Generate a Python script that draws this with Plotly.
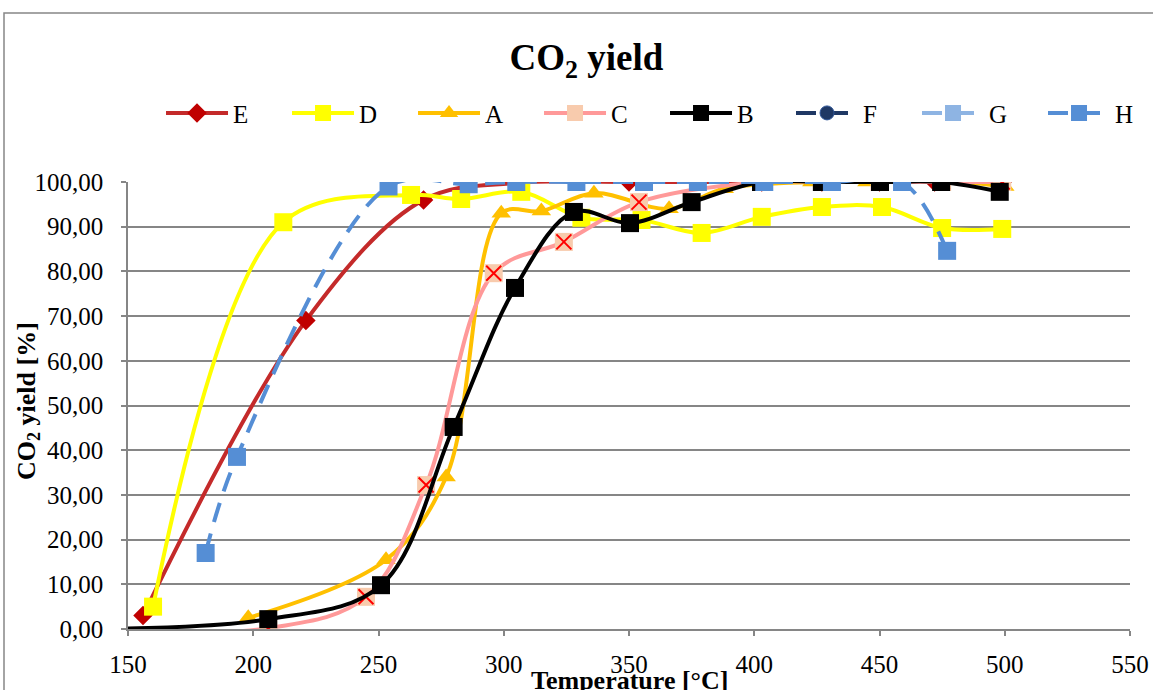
import plotly.graph_objects as go

# ---------------- data ----------------
E_x = [156, 221, 268, 305, 350, 403, 427, 450, 472, 499]
E_y = [3.0, 69.0, 96.0, 99.8, 100.0, 100.0, 100.0, 100.0, 100.0, 100.0]

D_x = [160, 212, 263, 283, 307, 331, 355, 379, 403, 427, 451, 475, 499]
D_y = [5.0, 91.0, 97.1, 96.2, 97.8, 92.0, 91.5, 88.6, 92.2, 94.4, 94.4, 89.7, 89.5]

A_x = [198, 253, 277, 299, 315, 336, 366, 388, 423, 445, 470, 500]
A_y = [2.5, 15.5, 34.0, 93.0, 93.5, 97.5, 94.0, 98.5, 100.0, 100.0, 100.5, 99.0]

C_x = [100, 206, 245, 269, 296, 324, 354, 403, 427, 450, 475, 499]
C_y = [0.0, 0.2, 7.2, 32.2, 79.6, 86.6, 95.5, 100.0, 100.0, 100.0, 100.0, 100.0]

B_x = [100, 206, 251, 280, 304.5, 328, 350.4, 375, 402.7, 427, 450.2, 474.6, 498]
B_y = [0.0, 2.2, 9.8, 45.2, 76.3, 93.3, 90.8, 95.5, 100.0, 100.0, 100.0, 100.0, 97.8]

F_x = [None]
F_y = [None]

G_x = [None]
G_y = [None]

H_x = [181, 193.5, 254, 286, 305, 329, 356, 377.5, 404, 431, 459, 477]
H_y = [17.0, 38.5, 99.0, 99.5, 100.0, 100.0, 100.0, 100.0, 100.0, 100.0, 100.0, 84.6]

x_ticks = [150, 200, 250, 300, 350, 400, 450, 500, 550]
y_ticks = [0, 10, 20, 30, 40, 50, 60, 70, 80, 90, 100]

FONT = "Liberation Serif, Times New Roman, serif"
GRID = "#868686"
LW = 4
DASH = "20px,12px"

fig = go.Figure()


def add(name, x, y, color, symbol, size, mcolor=None, dash="solid", mline=None, lw=None):
    fig.add_trace(go.Scatter(
        x=x, y=y, name=name, mode="lines+markers",
        line=dict(color=color, width=LW, shape="spline", smoothing=1.0, dash=dash),
        marker=dict(symbol=symbol, size=size, color=mcolor or color,
                    line=mline or dict(width=0)),
        legendwidth=lw,
    ))


add("E", E_x, E_y, "#C42A2A", "diamond", 15, mcolor="#C00000")
add("D", D_x, D_y, "#FFFF00", "square", 18)
add("A", A_x, A_y, "#FFC000", "triangle-up", 17)
add("C", C_x, C_y, "#FF9999", "square", 18, mcolor="#F8CBAD")
# red cross drawn over the C markers
fig.add_trace(go.Scatter(
    x=C_x[1:], y=C_y[1:], mode="markers", showlegend=False, hoverinfo="skip",
    marker=dict(symbol="x-thin", size=15, line=dict(color="#FF0000", width=2)),
))
add("B", B_x, B_y, "#000000", "square", 18)
add("F", F_x, F_y, "#1F3864", "circle", 14, dash=DASH,
    mline=dict(color="#2F5597", width=1))
add("G", G_x, G_y, "#8EB4E3", "square", 18, dash=DASH)
add("H", H_x, H_y, "#558ED5", "square", 18, dash=DASH, lw=18)

fig.update_layout(
    width=1153, height=690,
    margin=dict(l=128, r=23, t=182, b=61, pad=0, autoexpand=False),
    paper_bgcolor="white", plot_bgcolor="white",
    separators=", ",
    font=dict(family=FONT, size=25, color="black"),
    title=dict(text="<b>CO<sub>2</sub> yield</b>", font=dict(family=FONT, size=37, color="black"),
               x=586.5 / 1153, xref="container", xanchor="center",
               y=1 - 57 / 690, yref="container", yanchor="middle"),
    showlegend=True,
    legend=dict(orientation="h", x=1.008, xanchor="right", y=1.154, yanchor="middle",
                font=dict(family=FONT, size=25, color="black"),
                itemwidth=62, entrywidth=49, entrywidthmode="pixels",
                bgcolor="rgba(0,0,0,0)", traceorder="normal", itemclick=False),
    xaxis=dict(range=[150, 550], tickvals=x_ticks, showgrid=False, zeroline=False,
               showline=True, linecolor=GRID, linewidth=1.5, automargin=False,
               ticks="outside", ticklen=5, tickcolor=GRID, tickwidth=1.5,
               ticklabelstandoff=7, tickfont=dict(family=FONT, size=25, color="black")),
    yaxis=dict(range=[0, 100], tickvals=y_ticks, tickformat=".2f", showgrid=True,
               gridcolor=GRID, gridwidth=1.5, zeroline=False, automargin=False,
               showline=True, linecolor=GRID, linewidth=1.5,
               ticks="outside", ticklen=5, tickcolor=GRID, tickwidth=1.5,
               ticklabelstandoff=13, tickfont=dict(family=FONT, size=25, color="black")),
    annotations=[
        dict(text="<b>CO<sub>2</sub> yield [%]</b>", xref="paper", yref="paper",
             x=(28 - 128) / 1002, y=0.51, xanchor="center", yanchor="middle",
             textangle=-90, showarrow=False, font=dict(family=FONT, size=26, color="black")),
        dict(text="<b>Temperature [°C]</b>", xref="paper", yref="paper",
             x=0.5, y=(629 - 680) / 447, xanchor="center", yanchor="middle",
             showarrow=False, font=dict(family=FONT, size=26, color="black")),
    ],
    shapes=[
        dict(type="rect", xref="paper", yref="paper",
             x0=(4 - 128) / 1002, x1=1.2, y0=-0.3, y1=(629 - 13) / 447,
             line=dict(color=GRID, width=1.5), fillcolor="rgba(0,0,0,0)", layer="below"),
    ],
)

fig.write_html("out.html", config={"displayModeBar": False},
               post_script="document.body.style.margin='0';document.body.style.overflow='hidden';")
